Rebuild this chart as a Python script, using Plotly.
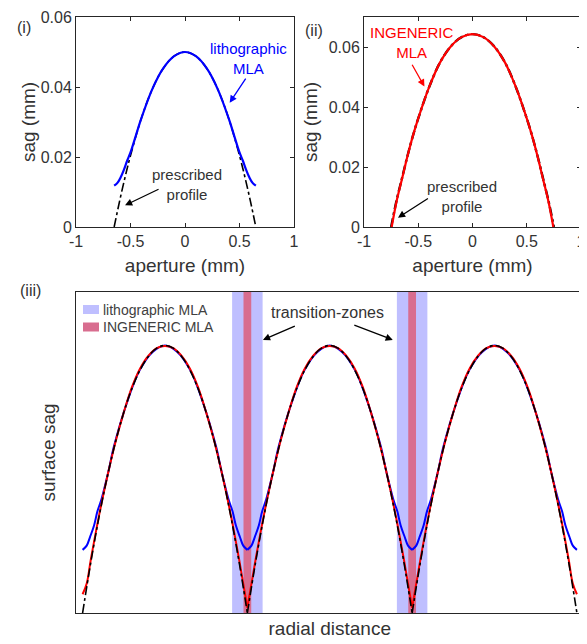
import plotly.graph_objects as go

# ---------------- data ----------------
# Panel (i): lithographic MLA vs prescribed profile (aperture mm, sag mm)
litho_x = [-0.65, -0.62, -0.59, -0.56, -0.53, -0.50, -0.45, -0.40, -0.30, -0.20, -0.10, 0.0,
           0.10, 0.20, 0.30, 0.40, 0.45, 0.50, 0.53, 0.56, 0.59, 0.62, 0.65]
litho_sag = [0.0118, 0.0126, 0.0142, 0.0164, 0.0190, 0.0213, 0.0262, 0.0311, 0.0394, 0.0453, 0.0488, 0.0500,
             0.0488, 0.0453, 0.0394, 0.0311, 0.0262, 0.0213, 0.0190, 0.0164, 0.0142, 0.0126, 0.0118]
presc1_x = [-0.65, -0.60, -0.55, -0.50, -0.40, -0.30, -0.20, -0.10, 0.0,
            0.10, 0.20, 0.30, 0.40, 0.50, 0.55, 0.60, 0.65]
presc1_sag = [0.0, 0.0074, 0.0142, 0.0204, 0.0311, 0.0394, 0.0453, 0.0488, 0.0500,
              0.0488, 0.0453, 0.0394, 0.0311, 0.0204, 0.0142, 0.0074, 0.0]

# Panel (ii): INGENERIC MLA vs prescribed profile
ing_x = [-0.745, -0.70, -0.65, -0.60, -0.55, -0.50, -0.40, -0.30, -0.20, -0.10, 0.0,
         0.10, 0.20, 0.30, 0.40, 0.50, 0.55, 0.60, 0.65, 0.70, 0.745]
ing_sag = [0.0, 0.0085, 0.0160, 0.0235, 0.0303, 0.0362, 0.0466, 0.0548, 0.0602, 0.0633, 0.0643,
           0.0633, 0.0602, 0.0548, 0.0466, 0.0362, 0.0303, 0.0235, 0.0160, 0.0085, 0.0]
presc2_x = [-0.75, -0.70, -0.65, -0.60, -0.55, -0.50, -0.40, -0.30, -0.20, -0.10, 0.0,
            0.10, 0.20, 0.30, 0.40, 0.50, 0.55, 0.60, 0.65, 0.70, 0.75]
presc2_sag = [0.0, 0.0088, 0.0162, 0.0236, 0.0303, 0.0362, 0.0466, 0.0548, 0.0602, 0.0633, 0.0643,
              0.0633, 0.0602, 0.0548, 0.0466, 0.0362, 0.0303, 0.0236, 0.0162, 0.0088, 0.0]

# Panel (iii): one lens period (radial distance in half-pitch units, normalised sag)
lens_centers = [-2, 0, 2]
lit3_u = [-1.0, -0.95, -0.91, -0.86, -0.82, -0.77, -0.69, -0.62, -0.46, -0.31, -0.15, 0.0,
          0.15, 0.31, 0.46, 0.62, 0.69, 0.77, 0.82, 0.86, 0.91, 0.95, 1.0]
lit3_v = [0.236, 0.252, 0.284, 0.328, 0.380, 0.426, 0.524, 0.622, 0.788, 0.906, 0.976, 1.0,
          0.976, 0.906, 0.788, 0.622, 0.524, 0.426, 0.380, 0.328, 0.284, 0.252, 0.236]
ing3_u = [-1.0, -0.95, -0.9, -0.8, -0.7, -0.6, -0.5, -0.4, -0.3, -0.2, -0.1, 0.0,
          0.1, 0.2, 0.3, 0.4, 0.5, 0.6, 0.7, 0.8, 0.9, 0.95, 1.0]
ing3_v = [0.02, 0.11, 0.20, 0.365, 0.51, 0.64, 0.75, 0.845, 0.915, 0.962, 0.99, 0.998,
          0.99, 0.962, 0.915, 0.845, 0.75, 0.64, 0.51, 0.365, 0.20, 0.11, 0.02]
ing3_edge_v = 0.07   # INGENERIC sag at the two outer ends of the array
presc3_u = [-1.0, -0.9, -0.8, -0.7, -0.6, -0.5, -0.4, -0.3, -0.2, -0.1, 0.0,
            0.1, 0.2, 0.3, 0.4, 0.5, 0.6, 0.7, 0.8, 0.9, 1.0]
presc3_v = [0.0, 0.19, 0.36, 0.51, 0.64, 0.75, 0.84, 0.91, 0.96, 0.99, 1.0,
            0.99, 0.96, 0.91, 0.84, 0.75, 0.64, 0.51, 0.36, 0.19, 0.0]
zone_centers = [-1, 1]
litho_zone_half = 0.185
ing_zone_half = 0.047
legend_labels = ["lithographic MLA", "INGENERIC MLA"]

x_ticks = [-1, -0.5, 0, 0.5, 1]
x_ticktext = ["-1", "-0.5", "0", "0.5", "1"]
y_ticks = [0, 0.02, 0.04, 0.06]
y_ticktext = ["0", "0.02", "0.04", "0.06"]

# ---------------- style ----------------
BLUE = "#0000ff"
RED = "#ff0000"
BLACK = "#000000"
AX = "#262626"
TXT = "#333333"
BAND_BLUE = "#bfbfff"
BAND_RED = "#d86d8f"
FONT = "Arial, Liberation Sans, sans-serif"

# The page body has an 8px margin, so the figure is drawn 8px smaller
# and all reference pixel positions are shifted by that offset.
OFF = 8
W, H = 587 - OFF, 644 - OFF
ML, MR, MT, MB = 76 - OFF, 3, 17 - OFF, 31
PW, PH = W - ML - MR, H - MT - MB
TOP = 17  # top edge of panels (i) and (ii) in page pixels


def px(xp):
    return (xp - OFF - ML) / PW


def py(yp):
    return (H - MB - (yp - OFF)) / PH


fig = go.Figure()

# Panel (i)
fig.add_trace(go.Scatter(x=presc1_x, y=presc1_sag, mode="lines", xaxis="x", yaxis="y",
                         line=dict(color=BLACK, width=1.6, dash="dashdot", shape="spline")))
fig.add_trace(go.Scatter(x=litho_x, y=litho_sag, mode="lines", xaxis="x", yaxis="y",
                         line=dict(color=BLUE, width=2.2, shape="spline")))
# Panel (ii)
fig.add_trace(go.Scatter(x=presc2_x, y=presc2_sag, mode="lines", xaxis="x2", yaxis="y2",
                         line=dict(color=BLACK, width=2.4, dash="dashdot", shape="spline")))
fig.add_trace(go.Scatter(x=ing_x, y=ing_sag, mode="lines", xaxis="x2", yaxis="y2",
                         line=dict(color=RED, width=2.2, shape="spline")))
# Panel (iii)
for c in lens_centers:
    fig.add_trace(go.Scatter(x=[c + u for u in lit3_u], y=lit3_v, mode="lines", xaxis="x3", yaxis="y3",
                             line=dict(color=BLUE, width=2, shape="spline")))
for i, c in enumerate(lens_centers):
    vals = list(ing3_v)
    if i == 0:
        vals[0] = ing3_edge_v
    if i == len(lens_centers) - 1:
        vals[-1] = ing3_edge_v
    fig.add_trace(go.Scatter(x=[c + u for u in ing3_u], y=vals, mode="lines", xaxis="x3", yaxis="y3",
                             line=dict(color=RED, width=2, shape="spline")))
for c in lens_centers:
    fig.add_trace(go.Scatter(x=[c + u for u in presc3_u], y=presc3_v, mode="lines", xaxis="x3", yaxis="y3",
                             line=dict(color=BLACK, width=1.6, dash="dashdot", shape="spline")))

shapes = []
for zc in zone_centers:
    shapes.append(dict(type="rect", xref="x3", yref="y3 domain", x0=zc - litho_zone_half, x1=zc + litho_zone_half,
                       y0=0, y1=1, fillcolor=BAND_BLUE, line=dict(width=0), layer="below"))
    shapes.append(dict(type="rect", xref="x3", yref="y3 domain", x0=zc - ing_zone_half, x1=zc + ing_zone_half,
                       y0=0, y1=1, fillcolor=BAND_RED, line=dict(width=0), layer="below"))

# manual legend (top-left of panel iii)
leg_cols = [BAND_BLUE, BAND_RED]
leg_y = [309.5, 327.0]
annotations = []
for lab, col, yy in zip(legend_labels, leg_cols, leg_y):
    shapes.append(dict(type="rect", xref="paper", yref="paper", x0=px(83), x1=px(99),
                       y0=py(yy + 4.5), y1=py(yy - 4.5), fillcolor=col, line=dict(width=0)))
    annotations.append(dict(xref="paper", yref="paper", x=px(101), y=py(yy), text=lab, showarrow=False,
                            xanchor="left", yanchor="middle", font=dict(size=14, color="#404040", family=FONT)))


def note(text, x, y, xr, yr, color, size=15):
    annotations.append(dict(x=x, y=y, xref=xr, yref=yr, text=text, showarrow=False,
                            font=dict(size=size, color=color, family=FONT), align="center"))


def arrow(hx, hy, tx, ty, xr, yr, color):
    annotations.append(dict(x=hx, y=hy, ax=tx, ay=ty, xref=xr, yref=yr, axref=xr, ayref=yr, text="",
                            showarrow=True, arrowhead=2, arrowsize=1.1, arrowwidth=1.3, arrowcolor=color))


# panel (i) notes
note("lithographic<br>MLA", 0.578, 0.0482, "x", "y", BLUE)
arrow(0.41, 0.0355, 0.566, 0.0428, "x", "y", BLUE)
note("prescribed<br>profile", 0.016, 0.0121, "x", "y", TXT)
arrow(-0.55, 0.0062, -0.229, 0.0110, "x", "y", BLACK)
# panel (ii) notes
note("INGENERIC<br>MLA", -0.557, 0.0614, "x2", "y2", RED)
arrow(-0.443, 0.0468, -0.564, 0.0546, "x2", "y2", RED)
note("prescribed<br>profile", -0.10, 0.0103, "x2", "y2", TXT)
arrow(-0.687, 0.0031, -0.397, 0.0098, "x2", "y2", BLACK)
# panel (iii) notes
note("transition-zones", -0.027, 1.124, "x3", "y3", TXT, size=16)
arrow(-0.811, 1.021, -0.406, 1.075, "x3", "y3", BLACK)
arrow(0.765, 1.021, 0.28, 1.078, "x3", "y3", BLACK)

# panel labels
note("(i)", px(15), py(17), "paper", "paper", TXT, size=16)
note("(ii)", px(314), py(20), "paper", "paper", TXT, size=16)
note("(iii)", px(18), py(290), "paper", "paper", TXT, size=16)

axis_common = dict(showline=True, linecolor=AX, linewidth=1, mirror="ticks", ticks="inside", ticklen=4,
                   tickcolor=AX, showgrid=False, zeroline=False, automargin=False, ticklabeloverflow="allow",
                   tickfont=dict(size=16, color=TXT, family=FONT))
box_common = dict(showline=True, linecolor=AX, linewidth=1, mirror=True, ticks="", showticklabels=False,
                  showgrid=False, zeroline=False, automargin=False)

fig.update_layout(
    width=W, height=H, margin=dict(l=ML, r=MR, t=MT, b=MB, pad=0),
    paper_bgcolor="white", plot_bgcolor="white", showlegend=False,
    font=dict(family=FONT, size=16, color=TXT),
    xaxis=dict(domain=[px(76), px(294)], anchor="y", range=[-1, 1], tickvals=x_ticks, ticktext=x_ticktext,
               title=dict(text="aperture (mm)", standoff=9), **axis_common),
    yaxis=dict(domain=[py(227), py(TOP)], anchor="x", range=[0, 0.06], tickvals=y_ticks,
               ticktext=y_ticktext, title=dict(text="sag (mm)", standoff=0), **axis_common),
    xaxis2=dict(domain=[px(364), px(581)], anchor="y2", range=[-1, 1], tickvals=x_ticks, ticktext=x_ticktext,
                title=dict(text="aperture (mm)", standoff=9), **axis_common),
    yaxis2=dict(domain=[py(227), py(TOP)], anchor="x2", range=[0, 0.07], tickvals=y_ticks,
                ticktext=y_ticktext, title=dict(text="sag (mm)", standoff=6), **axis_common),
    xaxis3=dict(domain=[px(76), px(583.5)], anchor="y3", range=[-3.08, 3.08],
                title=dict(text="radial distance", standoff=8), **box_common),
    yaxis3=dict(domain=[py(613), py(292)], anchor="x3", range=[0, 1.2],
                title=dict(text="surface sag", standoff=14), **box_common),
    shapes=shapes, annotations=annotations,
)

fig.write_html("out.html")
